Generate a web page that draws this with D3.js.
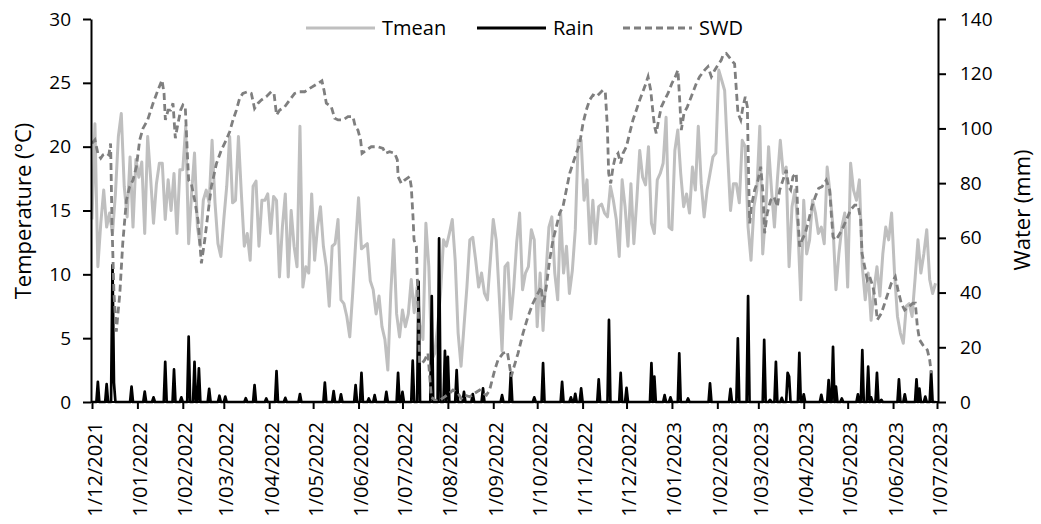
<!DOCTYPE html>
<html>
<head>
<meta charset="utf-8">
<script src="https://cdn.jsdelivr.net/npm/d3@7"></script>
<style>
  body { margin: 0; background: #fff; }
  svg { display: block; font-family: 'Open Sans', sans-serif; }
</style>
</head>
<body>
<div id="graph"></div>
<script>
// all days are counted from 1/12/2021
// Tmean, one reading every 2 days
const tmeanStep = 2;
const tmean = [
  14.3, 21.8, 10.6, 14.0, 16.6, 13.7, 14.8, 13.2, 16.3, 20.8,
  22.6, 16.9, 14.5, 19.2, 13.7, 19.0, 17.6, 18.8, 13.2, 20.8,
  17.6, 14.0, 17.1, 18.7, 18.7, 14.3, 17.4, 15.0, 17.9, 13.2,
  18.2, 18.2, 21.6, 12.4, 16.3, 19.5, 13.7, 12.2, 15.8, 16.6,
  15.6, 20.5, 15.6, 12.4, 11.4, 14.3, 16.9, 20.8, 15.6, 15.8,
  20.8, 16.3, 12.2, 13.2, 11.1, 16.9, 17.3, 12.2, 15.8, 15.8,
  16.3, 13.2, 16.1, 15.8, 9.8, 13.7, 16.3, 9.8, 15.0, 12.2,
  10.6, 21.6, 9.0,
  10.6, 10.1, 16.3, 11.1, 13.7, 15.3, 12.2, 10.6, 7.5, 12.2,
  12.4, 14.3, 8.0, 7.7, 6.7, 5.1, 8.5, 12.4, 16.0, 12.0,
  12.2, 12.4, 9.5, 8.8, 6.9, 8.3, 5.9, 4.9, 2.5, 8.5,
  12.7, 6.9, 5.1, 7.2, 5.9, 6.9, 9.6, 7.0, 9.0, 6.0,
  4.9, 14.0, 10.6, 3.3, 3.8, 5.9, 8.5, 12.7, 12.2, 13.2,
  14.3, 11.1, 5.4, 2.8, 5.9, 9.0, 12.7, 12.9, 11.1, 9.0,
  10.1, 8.5, 8.0, 11.1, 14.3, 12.7, 8.5, 4.0, 10.6, 10.9,
  6.5,
  9.0, 12.5, 14.8, 8.8, 10.1, 10.6, 13.5, 12.7, 5.9, 10.1,
  5.6, 10.1, 13.7, 14.5, 10.1, 8.0, 14.8, 10.1, 12.2, 8.5,
  10.3, 13.5, 20.5, 20.5, 15.8, 17.4, 12.4, 15.8, 12.4, 15.3,
  15.5, 14.8, 14.5, 16.9, 15.8, 14.3, 11.4, 17.4, 15.3, 12.2,
  17.1, 12.4, 15.8, 19.7, 17.6, 17.0, 20.0, 14.0, 13.2, 17.4,
  17.9, 18.7, 22.3, 13.7, 13.5, 19.7, 21.3, 17.9, 15.3, 16.3,
  14.8, 18.4, 16.6, 21.6, 17.1, 14.5, 16.6, 17.9, 19.2, 19.5,
  26.0, 25.2,
  24.4, 19.5, 15.0, 17.1, 17.1, 15.6, 20.5, 20.0, 13.7, 11.1,
  15.3, 16.6, 21.6, 11.6, 14.8, 20.0, 16.6, 13.7, 17.4, 20.5,
  17.9, 18.4, 10.6, 15.3, 16.6, 13.7, 8.0, 15.8, 11.6, 12.7,
  15.8, 14.8, 13.2, 13.7, 12.4, 18.4, 16.3, 13.7, 8.8, 11.6,
  13.7, 14.8, 9.0, 18.7, 16.6, 15.8, 17.4, 10.6, 8.0, 10.1,
  6.4, 8.8, 10.6, 8.3, 11.6, 13.7, 12.7, 14.8, 10.1, 6.7,
  5.4, 4.6, 7.5, 7.7, 6.7, 9.6, 12.7, 10.1, 11.6, 13.5,
  9.6, 8.5, 9.3
];

// rain days (all other days 0 mm)
const rainDay = [4, 10, 14, 15, 27, 36, 42, 50, 56, 61, 66, 70, 73, 80, 87, 91,
  105, 111, 119, 126, 132, 142, 159, 165, 170, 180, 184, 189, 193, 201, 209, 212,
  219, 223, 232, 237, 241, 243, 249, 254, 260, 267, 280, 286, 302, 308, 321, 327,
  330, 334, 346, 353, 361, 365, 382, 384, 391, 395, 401, 407, 422, 436, 441, 448,
  459, 463, 467, 471, 475, 476, 483, 486, 498, 503, 506, 508, 512, 523, 526, 530,
  532, 536, 539, 551, 555, 563, 565, 569, 573];
const rainMm = [7.4, 6.5, 50, 7, 5.6, 3.8, 1.7, 14.7, 11.9, 1.7, 23.9, 14.7, 12.3, 4.8, 2.3, 2.0,
  1.4, 6.2, 1.3, 11.3, 1.5, 2.9, 7.1, 4.0, 2.8, 6.2, 10.7, 1.3, 2.5, 3.7, 10.7, 3.7,
  15.1, 44.0, 38.7, 59.8, 18.7, 16.5, 11.7, 3.7, 2.9, 5.0, 2.5, 10.7, 1.7, 14.2, 7.4, 1.7,
  3.0, 5.0, 8.3, 30.0, 10.7, 5.2, 14.2, 9.3, 2.5, 1.7, 17.8, 1.3, 6.8, 4.8, 23.3, 38.7,
  22.7, 0.8, 14.7, 1.5, 10.7, 9.3, 18.0, 2.8, 2.6, 8.0, 20.2, 5.6, 1.3, 2.8, 19.0, 12.9,
  1.7, 10.7, 0.8, 8.3, 2.8, 8.3, 4.9, 2.0, 11.1];

// SWD readings
const swdDay = [0, 2, 4, 6, 7.5, 10, 11.5, 12.7, 13.7, 15, 16.6, 19, 21, 23.5, 25.7, 28, 30.3, 32.6,
  34.8, 38, 41.7, 45, 47.8, 49.2, 50.1, 52, 53.7, 55.3, 56.9, 58.3, 60.5, 62.1, 63.7, 65.1,
  66, 67.8, 70.1, 72.4, 74.7, 77, 79.2, 81.5, 85, 88.3, 91.7, 94, 96.3, 98.6, 100.8, 103,
  106, 108.8, 111, 113.4, 115.6, 119, 122.4, 124.3, 126, 128.2, 131.6, 135, 138.4, 141.8,
  145.2, 149.8, 154.3, 157, 158.4, 160, 163.4, 165.7, 168, 171.4, 174.8, 178.2, 179.8,
  181.6, 183.4, 184.4, 187.3, 190.7, 195.3, 198.7, 200.3, 203.2, 206.7, 208.5, 209, 211.2,
  213.5, 216.9, 218, 219.2, 219.9, 221.5, 222.1, 223.1, 223.7, 225.3, 227.1, 229.4, 230.6,
  231.7, 234, 236.3, 240.8, 244.2, 246.5, 249.9, 252.2, 254.5, 257.9, 261.3, 264.7, 267,
  269.3, 271.5, 275, 277.2, 280.6, 283.6, 286.3, 287.5, 290.9, 294.3, 297.7, 301.1, 304.5,
  306.8, 308, 310.2, 312.5, 314.8, 317.1, 319.3, 321.6, 323.9, 326.2, 328.4, 330.7, 333,
  335.3, 337.5, 339.8, 342.1, 344.4, 346.6, 348.9, 350.5, 351.9, 352.8, 354.2, 355.8,
  357.4, 359.2, 361, 362.6, 364.9, 367.1, 369.4, 371.7, 374, 377.4, 379.7, 381.5, 383.1,
  384.2, 385.3, 386.9, 388.8, 391, 393.3, 396, 398.3, 400.1, 401.3, 402.4, 404.2, 406.5,
  409.2, 412.7, 414.9, 418.3, 420.6, 422.9, 425.2, 427.4, 429.7, 430.9, 433.1, 436.6,
  438.8, 440, 441.1, 443, 444.5, 446.1, 447.5, 447.9, 448.4, 449.1, 450.2, 452.5, 454.8,
  456.6, 458.2, 459.3, 461.1, 463.4, 465.7, 468, 469.6, 471.8, 474.1, 475.7, 477.1, 478.7,
  480.9, 482.1, 483.2, 484.8, 487.1, 489.4, 491.6, 493.9, 496.2, 498.5, 501.4, 503.7,
  504.8, 506, 507.6, 509.4, 512.1, 515.1, 518, 520.8, 523.1, 524.9, 525.8, 527.6, 529.4,
  531, 533.3, 534.9, 536.2, 539, 541.3, 543.5, 545.8, 548.5, 550.4, 552.6, 554.9, 557.6,
  560.6, 562.2, 563.6, 565.1, 567.4, 570.4, 572, 573.1];
const swdMm = [94.5, 95.8, 90.9, 89.1, 90.3, 90.9, 90.3, 94.5, 64.1, 39.7, 25.7, 39.7, 58.0, 73.8, 78.7, 81.1, 86.0, 95.8,
  100.0, 103.1, 109.2, 114.0, 117.7, 112.8, 103.1, 106.7, 106.7, 109.2, 96.4, 100.6, 106.7, 108.6, 107.9, 90.9,
  81.1, 79.9, 73.8, 66.5, 50.7, 59.2, 69.0, 78.7, 87.2, 92.1, 95.8, 98.8, 103.1, 106.7, 111.0, 112.8,
  113.4, 112.8, 107.3, 109.2, 110.4, 111.6, 113.4, 112.8, 104.9, 106.7, 107.9, 110.4, 112.8, 113.4,
  113.4, 115.0, 116.5, 117.4, 114.0, 109.2, 107.9, 103.7, 103.1, 103.1, 104.3, 104.3, 100.6,
  99.4, 95.8, 90.9, 92.1, 93.3, 93.3, 92.7, 90.9, 91.5, 90.9, 88.5, 82.4, 79.9,
  81.1, 82.4, 78.7, 67.7, 59.2, 56.8, 45.8, 27.5, 14.1, 14.1, 15.3, 17.8, 9.3,
  1.9, 0.7, 0.3, 1.9, 3.2, 4.4, 3.2, 1.3, 2.5, 1.9, 3.2, 4.4, 3.2,
  2.5, 4.4, 11.7, 15.3, 17.8, 18.4, 9.3, 11.7, 17.8, 25.1, 31.2, 36.1, 39.7,
  42.1, 34.8, 42.1, 51.9, 59.2, 64.1, 69.0, 71.4, 77.5, 83.6, 87.2, 90.9, 94.5,
  101.9, 106.7, 110.4, 112.2, 111.6, 112.8, 114.0, 113.4, 100.6, 83.6, 79.9, 86.0,
  89.7, 90.9, 87.2, 90.9, 93.3, 98.2, 103.1, 106.7, 110.4, 115.2, 118.9, 114.0, 105.5,
  100.6, 98.2, 103.1, 107.9, 110.4, 112.8, 116.5, 118.9, 121.3, 110.4, 99.4, 105.5, 107.9,
  111.6, 116.5, 118.9, 121.3, 122.6, 118.9, 121.3, 123.2, 125.0, 126.8, 127.4, 125.0,
  123.6, 114.0, 105.5, 103.1, 107.9, 111.6, 107.9, 95.8, 81.1, 65.3, 71.4, 77.5, 81.1,
  86.0, 76.3, 61.7, 69.0, 73.8, 75.0, 71.4, 77.5, 81.1, 84.8, 78.7, 77.5, 82.4,
  83.6, 66.5, 56.8, 59.2, 61.7, 66.5, 71.4, 75.0, 78.1, 78.7, 81.1, 77.5,
  69.0, 60.4, 59.2, 60.4, 62.9, 66.5, 70.2, 72.0, 72.0, 66.5, 54.3, 49.5, 44.6,
  45.8, 42.1, 37.3, 30.0, 32.4, 36.1, 39.7, 43.4, 45.8, 40.9, 36.1, 33.6, 34.8,
  36.1, 36.1, 27.5, 22.7, 20.8, 19.0, 15.4, 10.5];

const seriesNames = ['Tmean', 'Rain', 'SWD'];
const tempTicks = [0, 5, 10, 15, 20, 25, 30];
const waterTicks = [0, 20, 40, 60, 80, 100, 120, 140];

const w = 1041;
const h = 524;
const start = new Date(Date.UTC(2021, 11, 1));
const end = new Date(Date.UTC(2023, 6, 1));
const toDate = (d) => new Date(start.getTime() + d * 86400000);

const xScale = d3.scaleUtc().domain([start, end]).range([92, 937]);
const yScale = d3.scaleLinear().domain([0, 30]).range([402, 19]);
const y2Scale = d3.scaleLinear().domain([0, 140]).range([402, 19]);

const rainByDay = new Map(rainDay.map((d, i) => [d, rainMm[i]]));
const rainSeries = d3.range(0, 577).map((d) => [d, rainByDay.get(d) || 0]);
const tmeanSeries = tmean.map((v, i) => [i * tmeanStep, v]);
const swdSeries = swdDay.map((d, i) => [d, swdMm[i]]);

const svg = d3.select('#graph').append('svg')
  .attr('width', w).attr('height', h);

const tLine = d3.line().x((d) => xScale(toDate(d[0]))).y((d) => yScale(d[1]));
const wLine = d3.line().x((d) => xScale(toDate(d[0]))).y((d) => y2Scale(d[1]));

svg.append('path').datum(tmeanSeries)
  .attr('d', tLine).attr('fill', 'none')
  .attr('stroke', '#bfbfbf').attr('stroke-width', 3).attr('stroke-linejoin', 'round');
svg.append('path').datum(rainSeries)
  .attr('d', wLine).attr('fill', 'none')
  .attr('stroke', '#000').attr('stroke-width', 2.7).attr('stroke-linejoin', 'round');
svg.append('path').datum(swdSeries)
  .attr('d', wLine).attr('fill', 'none')
  .attr('stroke', '#7f7f7f').attr('stroke-width', 2.8).attr('stroke-dasharray', '7,4');

// axes
const xAxis = d3.axisBottom(xScale)
  .ticks(d3.utcMonth.every(1))
  .tickFormat(d3.utcFormat('%-d/%m/%Y'))
  .tickSize(7).tickSizeOuter(0);
const yAxis = d3.axisLeft(yScale).tickValues(tempTicks).tickSize(8).tickPadding(12).tickSizeOuter(0);
const y2Axis = d3.axisRight(y2Scale).tickValues(waterTicks).tickSize(8).tickPadding(14).tickSizeOuter(0);

const gx = svg.append('g').attr('transform', 'translate(0,402)').call(xAxis);
gx.select('.domain').attr('d', 'M91,0H938');

const gy = svg.append('g').attr('transform', 'translate(91,0)').call(yAxis);
const gy2 = svg.append('g').attr('transform', 'translate(938,0)').call(y2Axis);

[gx, gy, gy2].forEach((g) => {
  g.selectAll('.domain, line').attr('stroke', '#000').attr('stroke-width', 2);
  g.selectAll('text').attr('fill', '#000').style('font-size', '19px').style('font-family', "'Open Sans', sans-serif");
});

gx.selectAll('text')
  .attr('transform', 'rotate(-90)')
  .attr('x', -20).attr('y', 0).attr('dy', '0.45em')
  .style('text-anchor', 'end')
  .style('font-size', '20px');

svg.append('text')
  .attr('transform', 'translate(31,211) rotate(-90)')
  .attr('text-anchor', 'middle').style('font-size', '22px')
  .text('Temperature (°C)');
svg.append('text')
  .attr('transform', 'translate(1030,210) rotate(-90)')
  .attr('text-anchor', 'middle').style('font-size', '22px')
  .text('Water (mm)');

// legend
const legendX = [306, 477, 623];
const legendStroke = ['#bfbfbf', '#000', '#7f7f7f'];
const legendDash = [null, null, '7,4'];
const legend = svg.append('g');
seriesNames.forEach((name, i) => {
  legend.append('line')
    .attr('x1', legendX[i]).attr('x2', legendX[i] + 69)
    .attr('y1', 28).attr('y2', 28)
    .attr('stroke', legendStroke[i]).attr('stroke-width', 3)
    .attr('stroke-dasharray', legendDash[i]);
  legend.append('text')
    .attr('x', legendX[i] + 76).attr('y', 35)
    .style('font-size', '20px')
    .text(name);
});
</script>
</body>
</html>
